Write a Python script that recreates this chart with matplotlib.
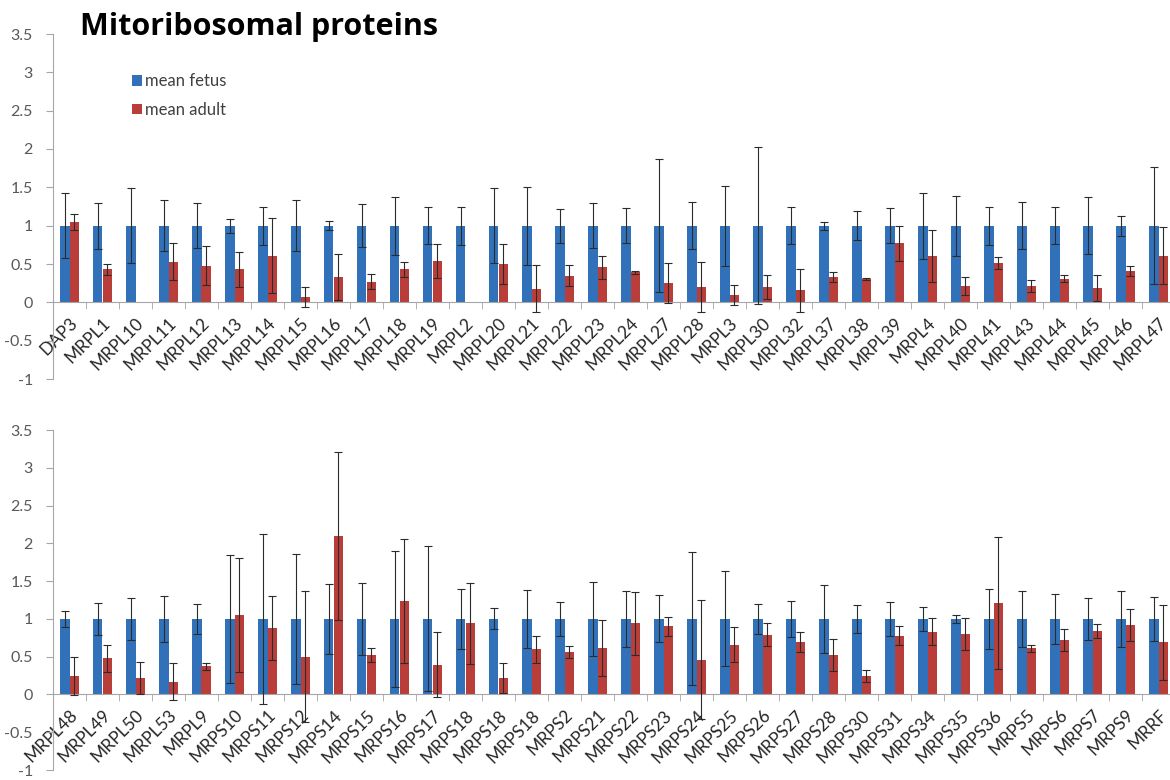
import matplotlib.pyplot as plt
import numpy as np

plt.rcParams['font.family'] = ['Lato', 'DejaVu Sans']

# panel superior
top_labels = ['DAP3', 'MRPL1', 'MRPL10', 'MRPL11', 'MRPL12', 'MRPL13', 'MRPL14', 'MRPL15',
              'MRPL16', 'MRPL17', 'MRPL18', 'MRPL19', 'MRPL2', 'MRPL20', 'MRPL21', 'MRPL22',
              'MRPL23', 'MRPL24', 'MRPL27', 'MRPL28', 'MRPL3', 'MRPL30', 'MRPL32', 'MRPL37',
              'MRPL38', 'MRPL39', 'MRPL4', 'MRPL40', 'MRPL41', 'MRPL43', 'MRPL44', 'MRPL45',
              'MRPL46', 'MRPL47']
top_fetus = [1, 1, 1, 1, 1, 1, 1, 1, 1, 1, 1, 1, 1, 1, 1, 1, 1,
             1, 1, 1, 1, 1, 1, 1, 1, 1, 1, 1, 1, 1, 1, 1, 1, 1]
top_fetus_sd = [0.42, 0.30, 0.49, 0.33, 0.29, 0.09, 0.25, 0.33, 0.06, 0.28, 0.38, 0.24,
                0.25, 0.49, 0.51, 0.22, 0.29, 0.23, 0.87, 0.31, 0.52, 1.02, 0.24, 0.05,
                0.19, 0.23, 0.43, 0.39, 0.25, 0.31, 0.24, 0.37, 0.13, 0.76]
top_adult = [1.05, 0.43, None, 0.53, 0.48, 0.43, 0.61, 0.07, 0.33, 0.27, 0.43, 0.54,
             None, 0.50, 0.18, 0.35, 0.46, 0.39, 0.25, 0.20, 0.09, 0.20, 0.16, 0.33,
             0.30, 0.77, 0.61, 0.21, 0.51, 0.21, 0.31, 0.19, 0.41, 0.61]
top_adult_sd = [0.10, 0.07, None, 0.24, 0.25, 0.23, 0.49, 0.13, 0.30, 0.10, 0.10, 0.22,
                None, 0.26, 0.31, 0.14, 0.15, 0.02, 0.26, 0.32, 0.13, 0.16, 0.28, 0.06,
                0.015, 0.23, 0.34, 0.12, 0.08, 0.08, 0.045, 0.17, 0.065, 0.37]

# panel inferior
bot_labels = ['MRPL48', 'MRPL49', 'MRPL50', 'MRPL53', 'MRPL9', 'MRPS10', 'MRPS11', 'MRPS12',
              'MRPS14', 'MRPS15', 'MRPS16', 'MRPS17', 'MRPS18', 'MRPS18', 'MRPS18', 'MRPS2',
              'MRPS21', 'MRPS22', 'MRPS23', 'MRPS24', 'MRPS25', 'MRPS26', 'MRPS27', 'MRPS28',
              'MRPS30', 'MRPS31', 'MRPS34', 'MRPS35', 'MRPS36', 'MRPS5', 'MRPS6', 'MRPS7',
              'MRPS9', 'MRRF']
bot_fetus = [1, 1, 1, 1, 1, 1, 1, 1, 1, 1, 1, 1, 1, 1, 1, 1, 1,
             1, 1, 1, 1, 1, 1, 1, 1, 1, 1, 1, 1, 1, 1, 1, 1, 1]
bot_fetus_sd = [0.11, 0.21, 0.28, 0.30, 0.20, 0.85, 1.12, 0.86, 0.46, 0.48, 0.90, 0.96,
                0.40, 0.14, 0.38, 0.23, 0.49, 0.37, 0.31, 0.88, 0.63, 0.20, 0.24, 0.45,
                0.19, 0.22, 0.16, 0.05, 0.40, 0.37, 0.33, 0.28, 0.37, 0.29]
bot_adult = [0.24, 0.48, 0.22, 0.17, 0.37, 1.05, 0.88, 0.50, 2.10, 0.52, 1.24, 0.39,
             0.94, 0.22, 0.60, 0.56, 0.62, 0.94, 0.90, 0.46, 0.66, 0.79, 0.69, 0.52,
             0.24, 0.78, 0.83, 0.80, 1.21, 0.61, 0.72, 0.84, 0.92, 0.69]
bot_adult_sd = [0.25, 0.18, 0.21, 0.24, 0.04, 0.75, 0.42, 0.87, 1.11, 0.09, 0.82, 0.43,
                0.54, 0.20, 0.18, 0.075, 0.37, 0.42, 0.13, 0.79, 0.23, 0.15, 0.13, 0.21,
                0.08, 0.12, 0.18, 0.21, 0.87, 0.05, 0.14, 0.09, 0.21, 0.50]

blue = '#3171b9'
red = '#b93d39'
gris = '#a6a6a6'
w = 0.28


def panel(ax, labels, fetus, fetus_sd, adult, adult_sd):
    x = np.arange(len(labels))
    adult = np.array(adult, dtype=float)
    adult_sd = np.array(adult_sd, dtype=float)
    ax.bar(x - w / 2, fetus, w, color=blue, label='mean fetus', zorder=2)
    ax.bar(x + w / 2, np.nan_to_num(adult), w, color=red, label='mean adult', zorder=2)
    ebar = dict(fmt='none', ecolor='#2b2b2b', elinewidth=0.8, capsize=2.6,
                capthick=0.8, zorder=3)
    ax.errorbar(x - w / 2, fetus, yerr=fetus_sd, **ebar)
    ax.errorbar(x + w / 2, adult, yerr=adult_sd, **ebar)

    ax.set_xlim(-0.5, len(labels) - 0.5)
    ax.set_ylim(-1, 3.5)
    yt = np.arange(-1, 3.51, 0.5)
    ax.set_yticks(yt)
    ax.set_yticklabels([f'{v:g}' for v in yt])

    ax.spines['top'].set_visible(False)
    ax.spines['right'].set_visible(False)
    ax.spines['bottom'].set_position(('data', 0))
    ax.spines['bottom'].set_color(gris)
    ax.spines['left'].set_color(gris)

    ax.set_xticks(x)
    ax.set_xticklabels(labels, rotation=45, ha='right', va='top',
                       rotation_mode='anchor', fontsize=12.5, color='#262626')
    ax.set_xticks(np.arange(len(labels) + 1) - 0.5, minor=True)
    ax.tick_params(axis='x', which='major', length=0, pad=9)
    ax.tick_params(axis='x', which='minor', length=5, color=gris, direction='out')
    ax.tick_params(axis='y', length=5, color=gris, labelsize=11.5, labelcolor='#595959', pad=9.5)


fig = plt.figure(figsize=(11.7, 7.8), dpi=100)
ax1 = fig.add_axes([53 / 1170, 401 / 780, 1122 / 1170, 345 / 780])
ax2 = fig.add_axes([53 / 1170, 10 / 780, 1122 / 1170, 340 / 780])

panel(ax1, top_labels, top_fetus, top_fetus_sd, top_adult, top_adult_sd)
panel(ax2, bot_labels, bot_fetus, bot_fetus_sd, bot_adult, bot_adult_sd)

ax1.legend(loc='upper left', bbox_to_anchor=(0.063, 0.91), frameon=False,
           handlelength=0.6, handleheight=0.6, handletextpad=0.2,
           labelspacing=0.75, fontsize=12, labelcolor='#404040', borderpad=0)

fig.text(80 / 1170, 1 - 35 / 780, 'Mitoribosomal proteins', fontsize=22,
         fontweight='bold', va='baseline', ha='left', family=['Open Sans', 'DejaVu Sans'])

fig.savefig('out.png', dpi=100, facecolor='white')
